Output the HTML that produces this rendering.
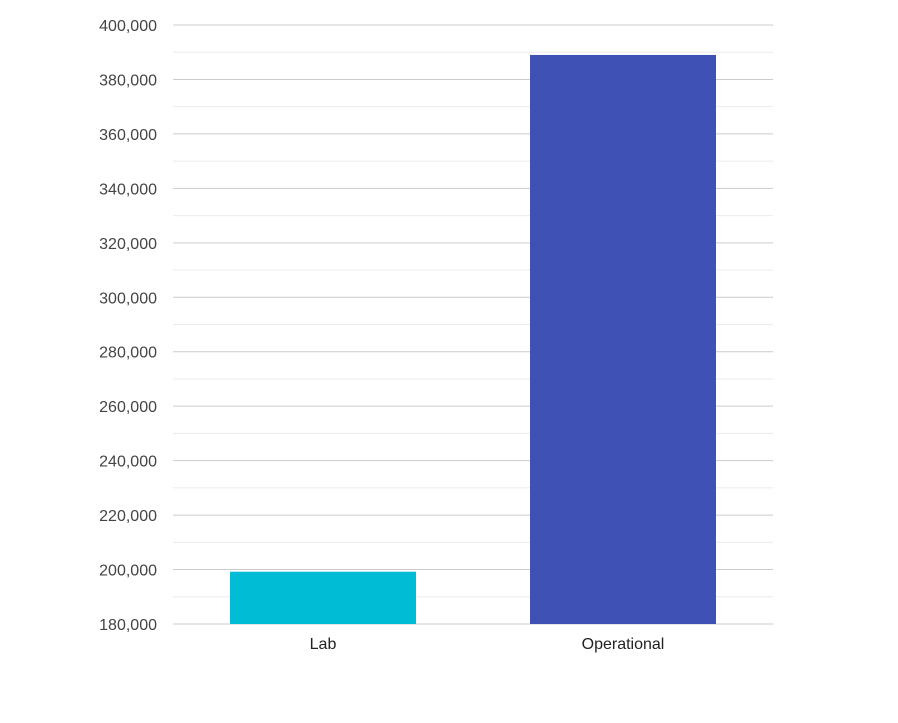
<!DOCTYPE html>
<html><head><meta charset="utf-8"><style>
html,body{margin:0;padding:0;background:#fff;}
svg{display:block;font-family:"Liberation Sans",Arial,sans-serif;}
</style></head><body>
<svg id="chart" width="898" height="723"></svg>
<script>
const categories = ["Lab", "Operational"];
const values = [199200, 389000];
const colors = ["#00bcd4", "#3f51b5"];
const yTicks = [180000,200000,220000,240000,260000,280000,300000,320000,340000,360000,380000,400000];

(function(){
const svg = document.getElementById('chart');
const NS = 'http://www.w3.org/2000/svg';
const plotLeft = 173, plotRight = 773, plotTop = 25, plotBottom = 624;
const yMin = 180000, yMax = 400000;
function y(v){ return plotBottom - (v - yMin) / (yMax - yMin) * (plotBottom - plotTop); }
const band = (plotRight - plotLeft) / categories.length;
function xCenter(i){ return plotLeft + band * (i + 0.5); }
function mk(tag, attrs){ const e = document.createElementNS(NS, tag); for (const k in attrs) e.setAttribute(k, attrs[k]); svg.appendChild(e); return e; }

for (let i = 0; i < yTicks.length - 1; i++) {
  const m = (yTicks[i] + yTicks[i+1]) / 2;
  const l = mk('line', {x1:plotLeft, x2:plotRight, y1:y(m), y2:y(m), stroke:'#ebebeb', 'stroke-width':1});
  
  
}
yTicks.forEach(t => {
  const l = mk('line', {x1:plotLeft, x2:plotRight, y1:y(t), y2:y(t), stroke:'#cccccc', 'stroke-width':1});
  
  
  const tx = mk('text', {x:157, y:y(t)+6, 'text-anchor':'end', 'font-size':16, fill:'#444'});
  tx.textContent = t.toLocaleString('en-US');
  
  
});
const barW = 186;
categories.forEach((c, i) => {
  const r = mk('rect', {x:xCenter(i)-barW/2, y:y(values[i]), width:barW, height:y(yMin)-y(values[i]), fill:colors[i]});
  
  
  const tx = mk('text', {x:xCenter(i), y:649, 'text-anchor':'middle', 'font-size':16, fill:'#222'});
  tx.textContent = c;
  
  
});
})();
</script>
</body></html>
